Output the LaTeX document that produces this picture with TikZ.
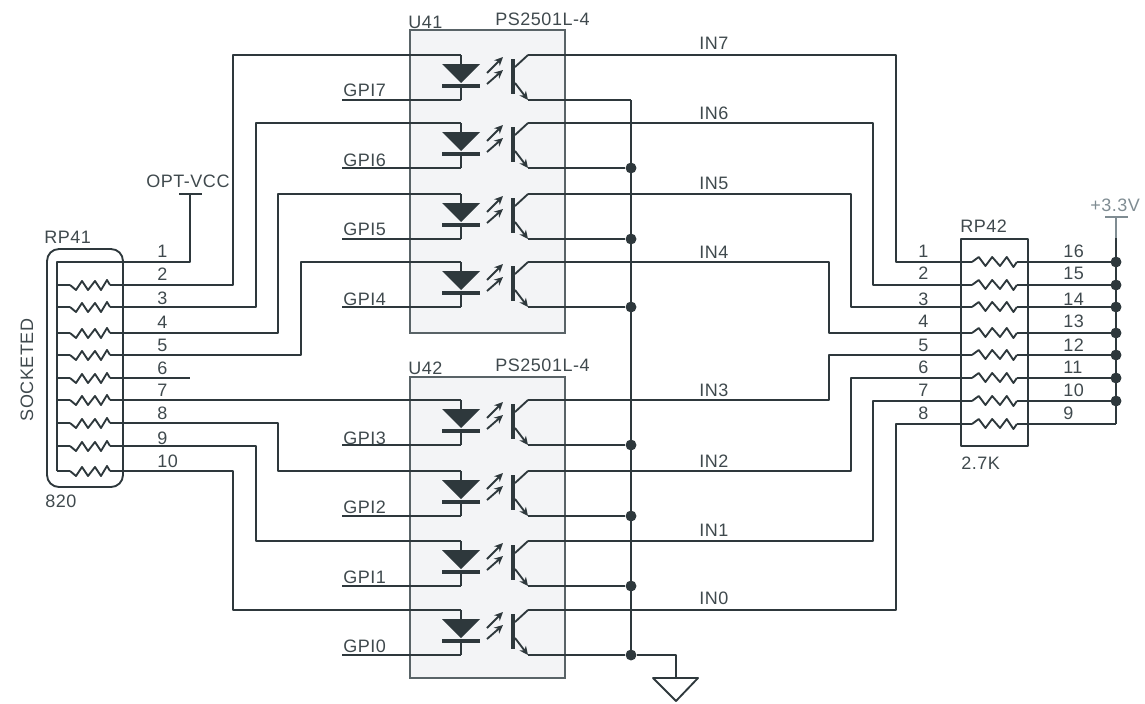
\documentclass[tikz,border=0pt]{standalone}
\usepackage{fontspec}
\usetikzlibrary{arrows.meta}
\setmainfont[LetterSpace=3]{Liberation Sans}
\definecolor{wirecol}{HTML}{2E383C}
\definecolor{textcol}{HTML}{3F494D}
\definecolor{railcol}{HTML}{7F8C92}
\definecolor{boxfill}{HTML}{F3F4F6}
\definecolor{boxline}{HTML}{596367}
\begin{document}
\begin{tikzpicture}[x=0.75pt,y=-0.75pt,>={Stealth[length=6.5pt,width=6pt]},
    wire/.style={draw=wirecol,line width=1.8pt,line join=round},
    thinwire/.style={draw=wirecol,line width=1.4pt,line join=round},
    lbl/.style={inner sep=0pt,anchor=base west,text=textcol,font=\fontsize{13.5}{16}\selectfont},
    junction/.style={circle,fill=wirecol,inner sep=0pt,minimum size=8.2pt},
    package/.style={fill=boxfill,draw=boxline,line width=0.9pt},
    % resistor with its two ends
    res/.pic={
      \coordinate (-l) at (0,0);
      \coordinate (-r) at (40,0);
      \draw[thinwire] (-l) -- (6,5) -- (12,-4) -- (18,5) -- (25,-4) -- (31,5) -- (37,-5) -- (-r);
    },
    % led and transistor of one channel
    opto/.pic={
      \coordinate (-a) at (0,0);
      \coordinate (-k) at (0,45);
      \coordinate (-c) at (67,0);
      \coordinate (-e) at (67,45);
      \draw[thinwire] (-a) -- (0,10);
      \draw[thinwire] (0,31) -- (-k);
      \fill[wirecol] (-19,9) -- (19,9) -- (0,28) -- cycle;
      \draw[wirecol,line width=3pt] (-19,31) -- (19,31);
      \draw[thinwire,->] (26,18) -- (42,2);
      \draw[thinwire,->] (26,29) -- (42,15);
      \draw[wirecol,line width=3pt] (52,4) -- (52,39);
      \draw[thinwire] (54,12) -- (-c);
      \draw[thinwire,->] (54,28) -- (-e);
    }]
  \useasboundingbox (0,0) rectangle (1145,703);
  % packages of the two couplers
  \draw[package] (410,30) rectangle (565,333);
  \draw[package] (410,377) rectangle (565,678);
  \node[lbl] (u41) at (408,28) {U41};
  \node[lbl] (u41type) at (495,25) {PS2501L-4};
  \node[lbl] (u42) at (408,374) {U42};
  \node[lbl] (u42type) at (495,371) {PS2501L-4};
  % couplers
  \foreach \n/\yy in {7/55,6/123,5/194,4/262,3/400,2/471,1/541,0/610}
    \pic (o\n) at (461,\yy) {opto};
  % gpi wires
  \coordinate (gpi) at (342,0);
  \foreach \n/\yy in {7/96,6/166,5/235,4/305,3/444,2/513,1/583,0/652} {
    \draw[wire] (o\n-k) -- (o\n-k -| gpi);
    \node[lbl] (gl\n) at (343,\yy) {GPI\n};
  }
  % in labels
  \foreach \n/\yy in {7/49,6/119,5/189,4/258,3/396,2/467,1/536,0/604}
    \node[lbl] (il\n) at (699,\yy) {IN\n};
  % emitter bus and ground
  \coordinate (bustop) at (631,100);
  \coordinate (gnd) at (676,678);
  \draw[wire] (o7-e) -- (bustop);
  \draw[wire] (bustop) -- (bustop |- o0-e);
  \foreach \n in {6,5,4,3,2,1,0} {
    \node[junction] (j\n) at (bustop |- o\n-e) {};
    \draw[wire] (o\n-e) -- (j\n);
  }
  \draw[wire] (j0) -| (gnd);
  \draw[thinwire] (653,678) -- (698,678) -- (676,701) -- cycle;
  % rp41
  \draw[thinwire,rounded corners=9pt] (47,249) rectangle (123,487);
  \coordinate (railtop) at (57,262);
  \coordinate (railbot) at (57,471);
  \coordinate (vcc) at (190,194);
  \draw[thinwire] (railbot) -- (railtop) -| (vcc);
  \draw[thinwire] (179,194) -- (202,194);
  \foreach \n/\yy in {2/285,3/307,4/333,5/355,6/378,7/400,8/423,9/446,10/471} {
    \pic (a\n) at (70,\yy) {res};
    \draw[wire] (a\n-l) -- (57,\yy);
  }
  \foreach \n/\yy in {1/257,2/280,3/304,4/328,5/351,6/374,7/396,8/419,9/444,10/467}
    \node[lbl] (pa\n) at (157,\yy) {\n};
  \node[lbl] (rp41) at (44,243) {RP41};
  \node[lbl] (v820) at (45,507) {820};
  \node[lbl] (optvcc) at (146,187) {OPT-VCC};
  \node[lbl,rotate=90,anchor=center] (socketed) at (27,370) {SOCKETED};
  % left side wires
  \draw[wire] (a2-r) -- (233,285) -- (233,55) -- (o7-a);
  \draw[wire] (a3-r) -- (256,307) -- (256,123) -- (o6-a);
  \draw[wire] (a4-r) -- (278,333) -- (278,194) -- (o5-a);
  \draw[wire] (a5-r) -- (301,355) -- (301,262) -- (o4-a);
  \draw[wire] (a6-r) -- (190,378);
  \draw[wire] (a7-r) -- (o3-a);
  \draw[wire] (a8-r) -- (278,423) -- (278,471) -- (o2-a);
  \draw[wire] (a9-r) -- (256,446) -- (256,541) -- (o1-a);
  \draw[wire] (a10-r) -- (233,471) -- (233,610) -- (o0-a);
  % rp42
  \draw[thinwire] (961,239) rectangle (1028,446);
  \coordinate (rail) at (1116,0);
  \coordinate (p33) at (1116,217);
  \foreach \n/\yy in {1/262,2/285,3/307,4/333,5/355,6/378,7/401,8/424} {
    \pic[xscale=1.12,yscale=-1] (b\n) at (972,\yy) {res};
    \draw[wire] (b\n-r) -- (b\n-r -| rail);
  }
  \draw[railcol,line width=1.4pt] (p33) -- (1116,238);
  \draw[wire] (1116,238) -- (1116,424);
  \draw[railcol,line width=1.4pt] (1105,217) -- (1128,217);
  \foreach \n/\yy in {1/262,2/285,3/307,4/333,5/355,6/378,7/401}
    \node[junction] (jr\n) at (1116,\yy) {};
  \foreach \n/\m/\yy in {1/16/257,2/15/279,3/14/305,4/13/327,5/12/351,6/11/373,7/10/396,8/9/419} {
    \node[lbl] (pb\n) at (918,\yy) {\n};
    \node[lbl] (pc\n) at (1063,\yy) {\m};
  }
  \node[lbl] (rp42) at (960,232) {RP42};
  \node[lbl] (v27k) at (961,469) {2.7K};
  \node[lbl,text=railcol] (v33) at (1090,211) {+3.3V};
  % right side wires
  \draw[wire] (o7-c) -- (896,55) -- (896,262) -- (b1-l);
  \draw[wire] (o6-c) -- (873,123) -- (873,285) -- (b2-l);
  \draw[wire] (o5-c) -- (851,194) -- (851,307) -- (b3-l);
  \draw[wire] (o4-c) -- (829,262) -- (829,333) -- (b4-l);
  \draw[wire] (o3-c) -- (829,400) -- (829,355) -- (b5-l);
  \draw[wire] (o2-c) -- (851,471) -- (851,378) -- (b6-l);
  \draw[wire] (o1-c) -- (873,541) -- (873,401) -- (b7-l);
  \draw[wire] (o0-c) -- (896,610) -- (896,424) -- (b8-l);
\end{tikzpicture}
\end{document}
